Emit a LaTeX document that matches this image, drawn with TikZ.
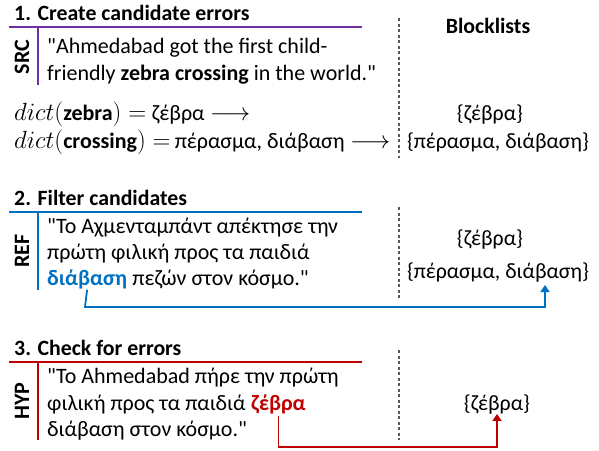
\documentclass[tikz,border=0pt]{standalone}
\usepackage{fontspec}
\setmainfont{Carlito}[Ligatures=TeXOff]
\usetikzlibrary{positioning, calc, arrows.meta}
\definecolor{srcpurple}{RGB}{112,48,160}
\definecolor{refblue}{RGB}{0,112,192}
\definecolor{hypred}{RGB}{192,0,0}
\newcommand{\dictword}[1]{\mbox{\fontsize{22}{27}\selectfont\bfseries #1}}

\begin{document}
\begin{tikzpicture}[
        x=1pt, y=-1pt,
        % --- Styles ---
        heading/.style={anchor=base west, inner sep=0pt, font=\fontsize{21.8}{25}\selectfont\bfseries},
        sentence/.style={anchor=base west, inner sep=0pt, font=\fontsize{22}{27}\selectfont},
        lookup/.style={anchor=base west, inner sep=0pt, font=\fontsize{24.5}{27}\selectfont},
        tag/.style={rotate=90, inner sep=0pt, font=\fontsize{22}{25}\selectfont\bfseries},
        entry/.style={anchor=base, inner sep=0pt, font=\fontsize{21.8}{25}\selectfont},
        % --- Line Styles ---
        rule/.style={line width=1.6pt},
        divider/.style={draw=black!65, line width=1.1pt, dash pattern=on 3pt off 2.5pt},
        link/.style={line width=1.8pt, -{Triangle[width=9pt, length=7pt]}}
    ]
        \useasboundingbox (0,0) rectangle (599,450);

        % --- Step 1 (Create) ---
        \node[heading] (head1) at (14,20) {1. Create candidate errors};
        \draw[rule, srcpurple] (9,27) -- (362,27);
        \draw[rule, srcpurple] (38,27) -- (38,85);
        \node[tag] (src) at (22,57) {SRC};
        \node[sentence] (srcline1) at (47,53) {"Ahmedabad got the first child-};
        \node[sentence] (srcline2) at (47,80) {friendly \textbf{zebra crossing} in the world."};
        \node[lookup] (dict1) at (14,120) {$dict(\dictword{zebra}) =$ {\fontsize{22}{27}\selectfont ζέβρα} $\longrightarrow$};
        \node[lookup] (dict2) at (14,148) {$dict(\dictword{crossing}) =$\,{\fontsize{22}{27}\selectfont πέρασμα, διάβαση} $\longrightarrow$};

        \draw[divider] (399,18) -- (399,158);
        \node[entry, font=\fontsize{21.8}{25}\selectfont\bfseries] (blocks) at (488,33) {Blocklists};
        \node[entry] (list1a) at (490,120) {\{ζέβρα\}};
        \node[entry] (list1b) at (498,148) {\{πέρασμα, διάβαση\}};

        % --- Step 2 (Filter) ---
        \node[heading] (head2) at (14,205) {2. Filter candidates};
        \draw[rule, refblue] (9,212) -- (362,212);
        \draw[rule, refblue] (38,212) -- (38,290);
        \node[tag] (ref) at (22,251) {REF};
        \node[sentence] (refline1) at (47,233) {"Το Αχμενταμπάντ απέκτησε την};
        \node[sentence] (refline2) at (47,259) {πρώτη φιλική προς τα παιδιά};
        \node[sentence] (refword) at (47,285) {\color{refblue}\bfseries διάβαση};
        \node[sentence] (refline3) at (refword.base east) {~πεζών στον κόσμο."};

        \draw[divider] (399,207) -- (399,298);
        \node[entry] (list2a) at (490,245) {\{ζέβρα\}};
        \node[entry] (list2b) at (498,278) {\{πέρασμα, διάβαση\}};
        \coordinate (reftarget) at (545,285);

        % --- Step 3 (Check) ---
        \node[heading] (head3) at (14,355) {3. Check for errors};
        \draw[rule, hypred] (9,362) -- (362,362);
        \draw[rule, hypred] (38,362) -- (38,440);
        \node[tag] (hyp) at (22,401) {HYP};
        \node[sentence] (hypline1) at (47,383) {"Το Ahmedabad πήρε την πρώτη};
        \node[sentence] (hypline2) at (47,410) {φιλική προς τα παιδιά};
        \node[sentence, xshift=5pt] (hypword) at (hypline2.base east) {\color{hypred}\bfseries ζέβρα};
        \node[sentence] (hypline3) at (47,436) {διάβαση στον κόσμο."};

        \draw[divider] (399,350) -- (399,440);
        \node[entry] (list3) at (497,410) {\{ζέβρα\}};

        % --- Filter / check links ---
        \draw[link, refblue] (refword.south) ++(0,1) -- (85,307) -| (reftarget);
        \draw[link, hypred] (hypword.south) ++(0,2) |- (497,447) -- (list3.south);

    \end{tikzpicture}
\end{document}
